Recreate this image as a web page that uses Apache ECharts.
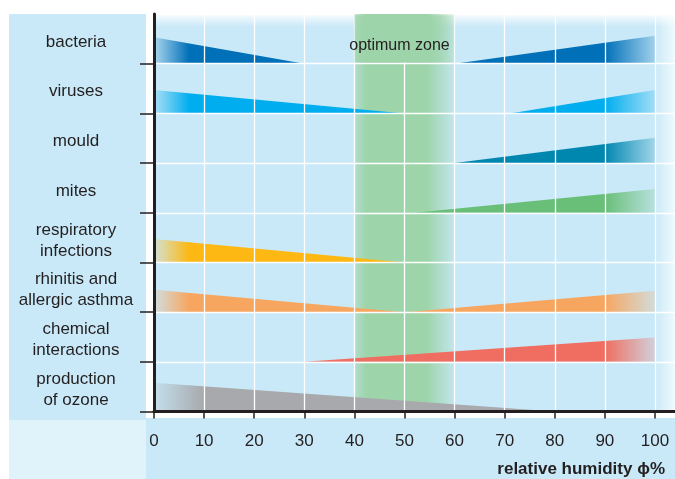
<!DOCTYPE html>
<html><head><meta charset="utf-8">
<script src="https://cdn.jsdelivr.net/npm/echarts@6/dist/echarts.min.js"></script>
<style>html,body{margin:0;padding:0;background:#fff}#c{width:675px;height:479px}</style>
</head><body><div id="c"></div>
<script>
// ---- data ----
const rowLabels = ['bacteria', 'viruses', 'mould', 'mites', 'respiratory\ninfections',
  'rhinitis and\nallergic asthma', 'chemical\ninteractions', 'production\nof ozone'];
const xTicks = [0, 10, 20, 30, 40, 50, 60, 70, 80, 90, 100];
const optimumZone = [40, 60];
// [relative humidity %, relative risk (fraction of row)]
const bacteriaDry = [[0, 0.53], [30, 0]];
const bacteriaHumid = [[60, 0], [100, 0.56]];
const virusesDry = [[0, 0.47], [50, 0]];
const virusesHumid = [[71, 0], [100, 0.47]];
const mouldHumid = [[60, 0], [100, 0.51]];
const mitesHumid = [[52, 0], [100, 0.48]];
const respiratoryDry = [[0, 0.47], [50, 0]];
const rhinitisDry = [[0, 0.45], [50, 0]];
const rhinitisHumid = [[50, 0], [100, 0.43]];
const chemicalHumid = [[30, 0], [100, 0.49]];
const ozoneDry = [[0, 0.58], [80, 0]];
const rowColors = ['#0070b8', '#00aeef', '#0087b0', '#6abf78', '#fdb813', '#f7a660', '#f06e61', '#a7a9ac'];

const wedges = [
  [0, bacteriaDry, 'dry'], [0, bacteriaHumid, 'humid'],
  [1, virusesDry, 'dry'], [1, virusesHumid, 'humid'],
  [2, mouldHumid, 'humid'],
  [3, mitesHumid, 'humid'],
  [4, respiratoryDry, 'dry'],
  [5, rhinitisDry, 'dry'], [5, rhinitisHumid, 'humid'],
  [6, chemicalHumid, 'humid'],
  [7, ozoneDry, 'dry']
];

// ---- chart ----
const FONT = 'Liberation Sans, Arial, Helvetica, sans-serif';
const TXT = '#231f20';
const N = rowLabels.length;
const XMAX = 104;

function rgba(hex, a) {
  const n = parseInt(hex.slice(1), 16);
  return 'rgba(' + (n >> 16 & 255) + ',' + (n >> 8 & 255) + ',' + (n & 255) + ',' + a + ')';
}
function zoneGradient() {
  return new echarts.graphic.LinearGradient(0, 0, 1, 0, [
    { offset: 0, color: 'rgba(157,212,170,0.55)' },
    { offset: 0.12, color: '#9dd4aa' },
    { offset: 0.72, color: '#9dd4aa' },
    { offset: 1, color: 'rgba(157,212,170,0.15)' }
  ]);
}

const series = [];
// optimum zone band (under grid lines)
series.push({
  type: 'line', data: [[50, 0]], symbol: 'none', lineStyle: { opacity: 0 }, z: 2, silent: true,
  markArea: {
    silent: true, z: 1,
    itemStyle: { color: zoneGradient() },
    data: [[{ xAxis: optimumZone[0], yAxis: N }, { xAxis: optimumZone[1], yAxis: 0 }]]
  }
});
// optimum zone top cell holding the caption (covers grid lines there)
series.push({
  type: 'line', data: [[50, N]], symbol: 'none', lineStyle: { opacity: 0 }, z: 5, silent: true,
  markArea: {
    silent: true, z: 5,
    itemStyle: { color: zoneGradient() },
    label: { show: true, position: 'insideTop', distance: 24, offset: [-5, 0], color: TXT, fontSize: 16, fontFamily: FONT },
    data: [[{ name: 'optimum zone', xAxis: optimumZone[0], yAxis: N }, { xAxis: optimumZone[1], yAxis: N - 0.97 }]]
  }
});

wedges.forEach(function (w) {
  const row = w[0], pts = w[1], side = w[2];
  const base = N - 1 - row;
  const c = rowColors[row];
  const x0 = pts[0][0], x1 = pts[pts.length - 1][0];
  const span = x1 - x0;
  let stops;
  if (side === 'dry') {
    const f = Math.min(0.9, (row === 7 ? 10 : 7) / span);
    stops = [{ offset: 0, color: rgba(c, 0.15) }, { offset: f, color: c }, { offset: 1, color: c }];
  } else {
    const f = Math.max(0.05, (90 - x0) / span);
    stops = [{ offset: 0, color: c }, { offset: f, color: c }, { offset: 1, color: rgba(c, 0.2) }];
  }
  series.push({
    type: 'line', silent: true, z: 3,
    data: pts.map(function (p) { return [p[0], base + p[1]]; }),
    symbol: 'none',
    lineStyle: { width: 0, opacity: 0 },
    areaStyle: { origin: base, opacity: 1, color: new echarts.graphic.LinearGradient(0, 0, 1, 0, stops) }
  });
});

const rowTicks = [];
const rowCenters = [];
for (let i = 0; i < N; i++) { rowTicks.push(i); rowCenters.push(i + 0.44); }

const option = {
  animation: false,
  grid: { left: 154, right: 0, top: 14, bottom: 67.5, show: true, backgroundColor: '#c9e9f8', borderWidth: 0, z: 0 },
  title: {
    text: 'relative humidity \u03d5%', right: 10, top: 461, padding: 0,
    textStyle: { fontSize: 17, fontWeight: 'bold', color: TXT, fontFamily: FONT }
  },
  graphic: [
    { type: 'rect', z: 0, shape: { x: 9, y: 14, width: 137, height: 406 }, style: { fill: '#c9e9f8' }, silent: true },
    { type: 'rect', z: 0, shape: { x: 9, y: 420, width: 137, height: 59 }, style: { fill: '#e0f3fb' }, silent: true },
    { type: 'rect', z: 0, shape: { x: 146, y: 418, width: 529, height: 61 }, style: { fill: '#c9e9f8' }, silent: true },
    { type: 'rect', z: 1, shape: { x: 154, y: 14, width: 521, height: 13 }, silent: true,
      style: { fill: new echarts.graphic.LinearGradient(0, 0, 0, 1, [{ offset: 0, color: 'rgba(255,255,255,0.9)' }, { offset: 1, color: 'rgba(255,255,255,0)' }]) } },
    { type: 'rect', z: 1, shape: { x: 655, y: 14, width: 20, height: 398 }, silent: true,
      style: { fill: new echarts.graphic.LinearGradient(0, 0, 1, 0, [{ offset: 0, color: 'rgba(255,255,255,0)' }, { offset: 1, color: 'rgba(255,255,255,0.75)' }]) } }
  ],
  xAxis: [
    { type: 'value', min: 0, max: XMAX, interval: 10, position: 'bottom', z: 4,
      axisLine: { show: false }, axisTick: { show: false }, axisLabel: { show: false },
      splitLine: { show: true, lineStyle: { color: '#ffffff', width: 1.3 } } },
    { type: 'value', min: 0, max: XMAX, position: 'bottom', z: 6,
      axisLine: { show: true, onZero: false, lineStyle: { color: TXT, width: 3 } },
      axisTick: { show: false }, axisLabel: { show: false }, splitLine: { show: false } },
    { type: 'value', min: 0, max: XMAX, position: 'bottom', offset: 8, z: 6,
      axisLine: { show: false },
      axisTick: { show: true, customValues: xTicks, length: 7, lineStyle: { color: TXT, width: 1.5 } },
      axisLabel: { show: true, customValues: xTicks, margin: 13, fontSize: 17, color: TXT, fontFamily: FONT },
      splitLine: { show: false } }
  ],
  yAxis: [
    { type: 'value', min: 0, max: N, interval: 1, position: 'left', z: 4,
      axisLine: { show: false }, axisTick: { show: false }, axisLabel: { show: false },
      splitLine: { show: true, lineStyle: { color: '#ffffff', width: 1.3 } } },
    { type: 'value', min: 0, max: N, position: 'left', z: 6,
      axisLine: { show: true, onZero: false, lineStyle: { color: TXT, width: 3 } },
      axisTick: { show: false }, axisLabel: { show: false }, splitLine: { show: false } },
    { type: 'value', min: 0, max: N, position: 'left', offset: 8, z: 6,
      axisLine: { show: false },
      axisTick: { show: true, customValues: rowTicks, length: 14, lineStyle: { color: TXT, width: 1.5 } },
      axisLabel: { show: true, customValues: rowCenters, margin: 70, align: 'center', fontSize: 17, lineHeight: 21,
        color: TXT, fontFamily: FONT,
        formatter: function (v) { return rowLabels[N - 1 - Math.floor(v)]; } },
      splitLine: { show: false } }
  ],
  series: series
};

const chart = echarts.init(document.getElementById('c'), null, { renderer: 'canvas' });
chart.setOption(option);
</script>
</body></html>
